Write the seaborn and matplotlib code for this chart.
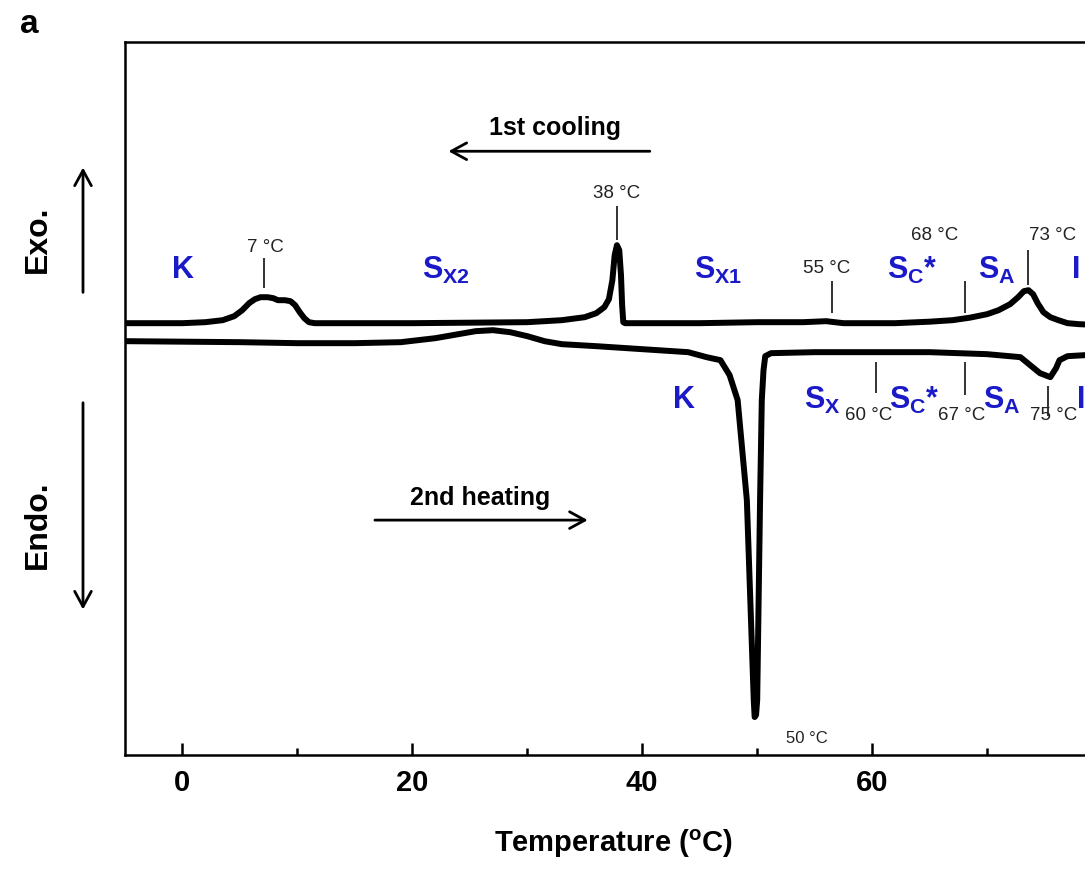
import numpy as np
import pandas as pd
import matplotlib
matplotlib.use("Agg")
import matplotlib.pyplot as plt
import seaborn as sns

# DSC traces (temperature in C, heat flow in arbitrary units)
cool_T = [-5, 0, 2, 3.5, 4.5, 5.2, 5.8, 6.3, 6.8, 7.4, 7.9, 8.3, 8.9, 9.4, 9.8, 10.2, 10.6, 11.0,
          11.5, 20, 30, 33, 35, 36, 36.7, 37.1, 37.4, 37.6, 37.8, 38.0, 38.15, 38.25, 38.35,
          38.5, 45, 50, 54, 56, 57.5, 62, 65, 67, 68.5, 70, 71, 72, 72.7, 73.2, 73.6, 74.0,
          74.4, 74.9, 75.5, 76.2, 77, 78, 80]
cool_hf = [432, 432, 433, 435, 439, 445, 452, 456, 458, 458, 457, 455, 455, 454, 450, 443, 437, 433,
           432, 432, 433, 435, 438, 442, 448, 456, 475, 500, 510, 505, 480, 450, 433,
           432, 432, 433, 433, 434, 432, 432, 433.5, 435, 437.5, 441, 445, 451, 458, 464, 465, 461,
           452, 443, 438, 435, 432, 431, 430]

heat_T = [-5, 5, 10, 15, 19, 22, 24, 25.5, 27, 28.5, 30, 31.5, 33, 36, 40, 44, 45.6, 46.8, 47.6,
          48.3, 49.1, 49.4, 49.7, 49.78, 49.9, 50.0, 50.25, 50.4, 50.55, 50.7, 51.2, 55, 60, 65,
          70, 72.9, 74.6, 75.5, 76.0, 76.3, 77, 80]
heat_hf = [414, 413, 412, 412, 413, 417, 421, 424, 425, 423, 419, 414, 411, 409, 406, 403, 398, 395, 380,
           355, 255, 155, 55, 38, 40, 55, 255, 355, 385, 399, 402, 403, 403, 403,
           401, 398, 382, 378, 387, 395, 399, 401]

# phase labels
cool_phases = [r"$\mathbf{K}$", r"$\mathbf{S_{X2}}$", r"$\mathbf{S_{X1}}$", r"$\mathbf{S_C}$*", r"$\mathbf{S_A}$", r"$\mathbf{I}$"]
cool_phase_T = [0, 22.9, 46.6, 63.5, 70.8, 77.7]
heat_phases = [r"$\mathbf{K}$", r"$\mathbf{S_X}$", r"$\mathbf{S_C}$*", r"$\mathbf{S_A}$", r"$\mathbf{I}$"]
heat_phase_T = [43.6, 55.7, 63.7, 71.3, 78.1]

# transition markers: position, line span, label and label position
cool_mark_T = [7.1, 37.8, 56.5, 68.1, 73.6]
cool_mark_lo = [467, 515, 442, 442, 470]
cool_mark_hi = [497, 549, 474, 474, 505]
cool_mark_lab = ["7 °C", "38 °C", "55 °C", "68 °C", "73 °C"]
cool_lab_T = [7.2, 37.8, 56.0, 65.4, 75.7]
cool_lab_y = [508, 562, 487, 520, 520]

heat_mark_T = [60.3, 68.1, 75.3]
heat_mark_lo = [362, 360, 339]
heat_mark_hi = [393, 393, 369]
heat_mark_lab = ["60 °C", "67 °C", "75 °C"]
heat_lab_T = [59.7, 67.8, 75.8]

cool = pd.DataFrame({"T": cool_T, "hf": cool_hf})
heat = pd.DataFrame({"T": heat_T, "hf": heat_hf})

sns.set_style("ticks", {"text.color": "black", "axes.edgecolor": "black",
                        "axes.labelcolor": "black", "xtick.color": "black"})
plt.rcParams["font.family"] = ["Liberation Sans", "DejaVu Sans"]
plt.rcParams["mathtext.fontset"] = "custom"
plt.rcParams["mathtext.rm"] = "Liberation Sans"
plt.rcParams["mathtext.bf"] = "Liberation Sans:bold"
plt.rcParams["mathtext.it"] = "Liberation Sans:italic"

fig = plt.figure(figsize=(10.85, 8.81), dpi=100)
ax = fig.add_axes([0.1152, 0.143, 0.9005, 0.809])

sns.lineplot(data=cool, x="T", y="hf", color="black", lw=4.3, ax=ax,
             solid_joinstyle="round", solid_capstyle="round")
sns.lineplot(data=heat, x="T", y="hf", color="black", lw=4.3, ax=ax,
             solid_joinstyle="round", solid_capstyle="round")

ax.set_xlim(-5, 80)
ax.set_ylim(0, 713)
ax.set_yticks([])
ax.set_xticks([0, 20, 40, 60])
ax.set_xticks([10, 30, 50, 70], minor=True)
ax.tick_params(axis="x", which="major", direction="in", length=9, width=1.8, pad=10,
               labelsize=21)
ax.tick_params(axis="x", which="minor", direction="in", length=5, width=1.8)
for lab in ax.get_xticklabels():
    lab.set_fontweight("bold")
for s in ax.spines.values():
    s.set_linewidth(1.8)
ax.set_ylabel("")
ax.set_xlabel(r"Temperature ($\mathbf{^{o}}$C)", fontsize=21, fontweight="bold", labelpad=22)

blue = "#1a1ac8"
for lab, t in zip(cool_phases, cool_phase_T):
    ax.text(t, 485, lab, color=blue, fontsize=22, fontweight="bold", ha="center", va="center")
for lab, t in zip(heat_phases, heat_phase_T):
    ax.text(t, 355, lab, color=blue, fontsize=22, fontweight="bold", ha="center", va="center")

ax.vlines(cool_mark_T, cool_mark_lo, cool_mark_hi, color="#222222", lw=1.3)
ax.vlines(heat_mark_T, heat_mark_lo, heat_mark_hi, color="#222222", lw=1.3)
for lab, t, y in zip(cool_mark_lab, cool_lab_T, cool_lab_y):
    ax.text(t, y, lab, fontsize=13.5, color="#222222", ha="center", va="center")
for lab, t in zip(heat_mark_lab, heat_lab_T):
    ax.text(t, 340, lab, fontsize=13.5, color="#222222", ha="center", va="center")
ax.text(54.3, 17, "50 °C", fontsize=12, color="#222222", ha="center", va="center")

arrow = dict(arrowstyle="->,head_length=0.55,head_width=0.3", color="black", lw=2,
             mutation_scale=20)

# scan direction arrows
ax.text(32.4, 627, "1st cooling", fontsize=18, fontweight="bold", ha="center", va="center")
ax.annotate("", xy=(22.9, 604), xytext=(40.9, 604), arrowprops=arrow)
ax.text(25.9, 257, "2nd heating", fontsize=18, fontweight="bold", ha="center", va="center")
ax.annotate("", xy=(35.5, 235), xytext=(16.5, 235), arrowprops=arrow)

# exo / endo
fig.text(0.035, 0.728, "Exo.", rotation=90, fontsize=23, fontweight="bold", ha="center", va="center")
fig.text(0.035, 0.404, "Endo.", rotation=90, fontsize=23, fontweight="bold", ha="center", va="center")
ax.annotate("", xy=(0.0765, 0.813), xytext=(0.0765, 0.665), xycoords="figure fraction",
            textcoords="figure fraction", arrowprops=arrow)
ax.annotate("", xy=(0.0765, 0.305), xytext=(0.0765, 0.546), xycoords="figure fraction",
            textcoords="figure fraction", arrowprops=arrow)

fig.text(0.018, 0.972, "a", fontsize=24, fontweight="bold", ha="left", va="center")

fig.savefig("out.png", dpi=100)
